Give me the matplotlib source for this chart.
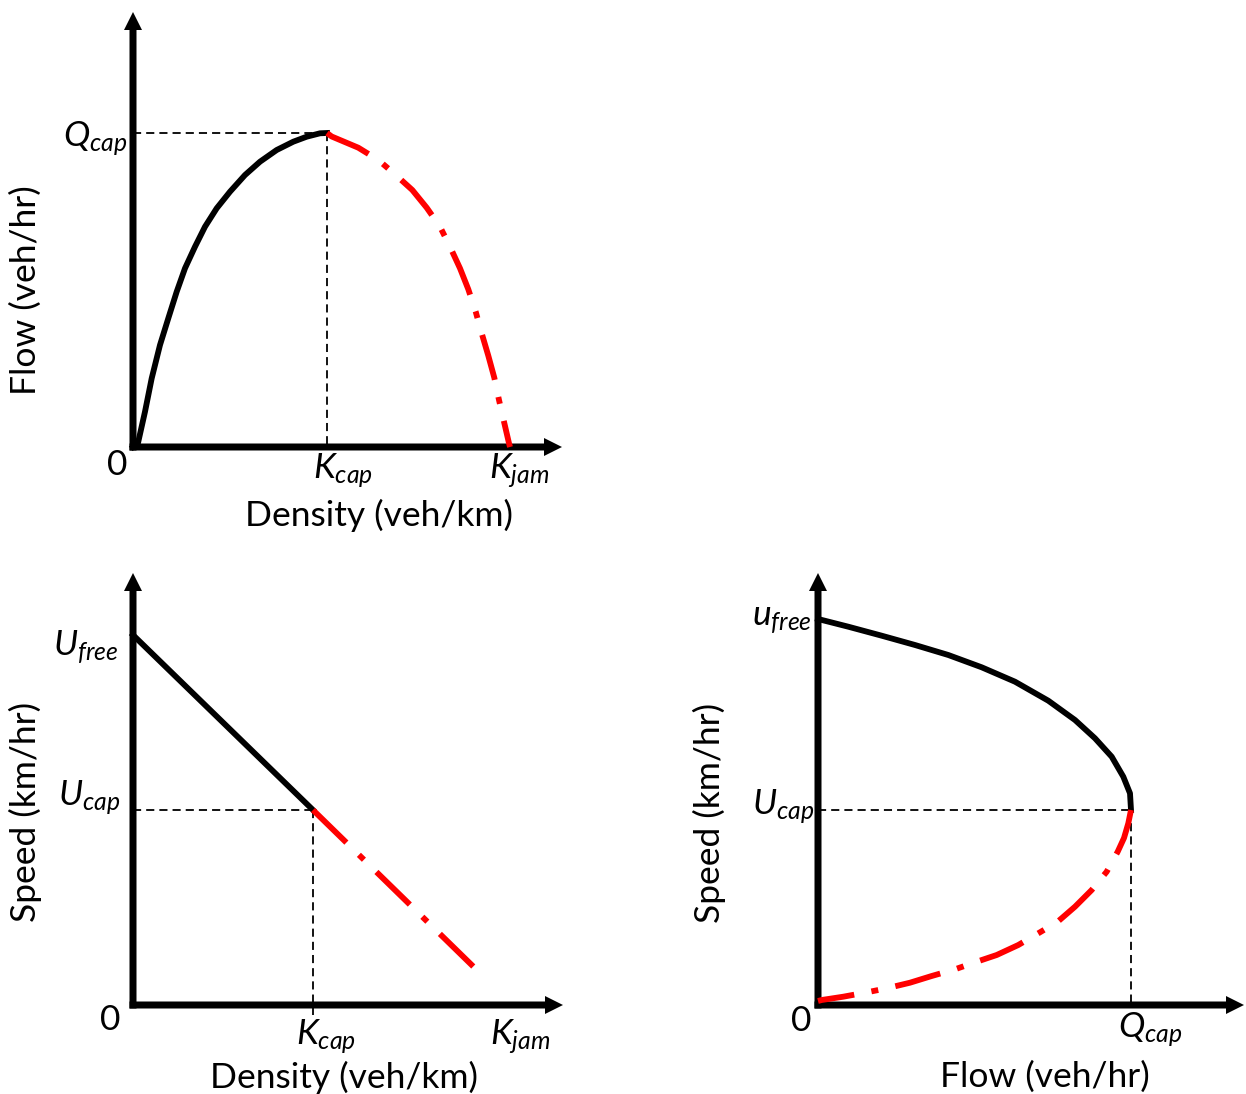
import matplotlib
matplotlib.use('Agg')
import matplotlib.pyplot as plt

plt.rcParams['font.family'] = ['Lato', 'DejaVu Sans']
plt.rcParams['mathtext.fontset'] = 'custom'
plt.rcParams['mathtext.it'] = 'Lato:italic'
plt.rcParams['mathtext.rm'] = 'Lato'

# values, in pixels from each panel's origin
# flow-density
fd_k_free = [0, 5, 12, 18.7, 27, 35.3, 43.7, 52, 62, 72, 83.7, 97, 112, 127,
             143.7, 160.3, 173.7, 187, 194]
fd_q_free = [0, 4, 35.3, 68.7, 102, 128.7, 155.3, 178.7, 200.3, 220.3, 238.7,
             255.3, 272, 285.3, 297, 305.3, 310.3, 313.7, 314]
fd_k_cong = [194, 198.7, 225.3, 245.3, 262, 279.3, 293.7, 307, 317, 327, 335.3,
             342.7, 348.7, 355.3, 361.3, 366, 371, 376, 377]
fd_q_cong = [314, 310.5, 299.3, 287, 272.7, 257, 239.3, 220.3, 200.3, 178.7,
             157.7, 135.3, 113.7, 91.3, 69.3, 47, 25.3, 3.7, 0]
fd_kcap, fd_qcap = 194, 314

# speed-density
sd_k_free = [0, 180]
sd_u_free = [370, 195]
sd_k_cong = [180, 350]
sd_u_cong = [195, 29]
sd_kcap, sd_ucap, sd_kjam = 180, 195, 387

# speed-flow
sf_q_free = [0, 30.3, 63.7, 97, 130.3, 163.7, 197, 230.3, 257, 277, 293.7,
             305.3, 312, 313]
sf_u_free = [386, 378.3, 369.3, 360, 350, 337.7, 323.3, 304.3, 285, 266.7,
             248.3, 228.3, 211.7, 195]
sf_q_cong = [313, 310.3, 306, 299.7, 288.7, 273.7, 257, 239.7, 220.3, 200.3,
             178.7, 157, 137, 113.7, 92, 68.7, 47, 25.3, 3.7, 0]
sf_u_cong = [195, 181.7, 167, 153.3, 133.3, 115, 98.3, 83.3, 71.7, 60, 50,
             42.7, 35.7, 29, 22.3, 16.7, 12.3, 8.3, 5, 4]
sf_qcap, sf_ucap = 313, 195

W, H = 1246, 1094
fig = plt.figure(figsize=(W / 100, H / 100), dpi=100)

FS = 25.5
LW = 4.2
red_ls = (0, (8, 3, 1.2, 3))
guide_ls = (0, (4.5, 2.8))


def panel(box, origin):
    l, t, r, b = box
    ox, oy = origin
    ax = fig.add_axes([l / W, 1 - b / H, (r - l) / W, (b - t) / H])
    ax.set_xlim(l - ox, r - ox)
    ax.set_ylim(oy - b, oy - t)
    ax.axis('off')
    return ax


def arrows(ax, xtip, ytip):
    ax.arrow(-3.5, 0, xtip + 3.5, 0, width=7, head_width=18, head_length=18,
             length_includes_head=True, color='k', lw=0, zorder=3)
    ax.arrow(0, -3.5, 0, ytip + 3.5, width=7, head_width=18, head_length=18,
             length_includes_head=True, color='k', lw=0, zorder=3)


def lab(ax, x, y, s, **kw):
    ax.text(x, y, s, fontsize=FS, clip_on=False, **kw)


# ---- top left: flow vs density
ax1 = panel((0, 0, 600, 545), (133, 447))
arrows(ax1, 429, 435)
ax1.plot([0, fd_kcap], [fd_qcap, fd_qcap], color='k', lw=1.3, ls=guide_ls)
ax1.plot([fd_kcap, fd_kcap], [fd_qcap, 0], color='k', lw=1.3, ls=guide_ls)
ax1.plot(fd_k_free, fd_q_free, color='k', lw=LW, solid_joinstyle='round', zorder=4)
ax1.plot(fd_k_cong, fd_q_cong, color='red', lw=LW, ls=red_ls, zorder=4)
lab(ax1, -6, 300, r'$Q_{cap}$', ha='right', va='baseline')
lab(ax1, -16, -18, '0', ha='center', va='center')
lab(ax1, 210, -32, r'$K_{cap}$', ha='center', va='baseline')
lab(ax1, 386, -32, r'$K_{jam}$', ha='center', va='baseline')
lab(ax1, 246, -68, 'Density (veh/km)', ha='center', va='center')
lab(ax1, -107, 157, 'Flow (veh/hr)', ha='center', va='center', rotation=90)

# ---- bottom left: speed vs density
ax2 = panel((0, 560, 600, 1094), (133, 1005))
arrows(ax2, 430, 432)
ax2.plot([0, sd_kcap], [sd_ucap, sd_ucap], color='k', lw=1.3, ls=guide_ls)
ax2.plot([sd_kcap, sd_kcap], [sd_ucap, -10], color='k', lw=1.3, ls=guide_ls)
ax2.plot(sd_k_free, sd_u_free, color='k', lw=LW, zorder=4)
ax2.plot(sd_k_cong, sd_u_cong, color='red', lw=LW, ls=red_ls, zorder=4)
lab(ax2, -15, 349, r'$U_{free}$', ha='right', va='baseline')
lab(ax2, -13, 199, r'$U_{cap}$', ha='right', va='baseline')
lab(ax2, -23, -15, '0', ha='center', va='center')
lab(ax2, 193, -40, r'$K_{cap}$', ha='center', va='baseline')
lab(ax2, sd_kjam, -40, r'$K_{jam}$', ha='center', va='baseline')
lab(ax2, 211, -72, 'Density (veh/km)', ha='center', va='center')
lab(ax2, -108, 193, 'Speed (km/hr)', ha='center', va='center', rotation=90)

# ---- bottom right: speed vs flow
ax3 = panel((660, 560, 1246, 1094), (818, 1005))
arrows(ax3, 426, 432)
ax3.plot([0, sf_qcap], [sf_ucap, sf_ucap], color='k', lw=1.3, ls=guide_ls)
ax3.plot([sf_qcap, sf_qcap], [sf_ucap, 0], color='k', lw=1.3, ls=guide_ls)
ax3.plot(sf_q_free, sf_u_free, color='k', lw=LW, solid_joinstyle='round', zorder=4)
ax3.plot(sf_q_cong, sf_u_cong, color='red', lw=LW, ls=red_ls, zorder=4)
lab(ax3, -6, 379, r'$u_{free}$', ha='right', va='baseline')
lab(ax3, -4, 190, r'$U_{cap}$', ha='right', va='baseline')
lab(ax3, -17, -16, '0', ha='center', va='center')
lab(ax3, 332, -33, r'$Q_{cap}$', ha='center', va='baseline')
lab(ax3, 227, -72, 'Flow (veh/hr)', ha='center', va='center')
lab(ax3, -109, 192, 'Speed (km/hr)', ha='center', va='center', rotation=90)

fig.savefig('out.png', dpi=100)
